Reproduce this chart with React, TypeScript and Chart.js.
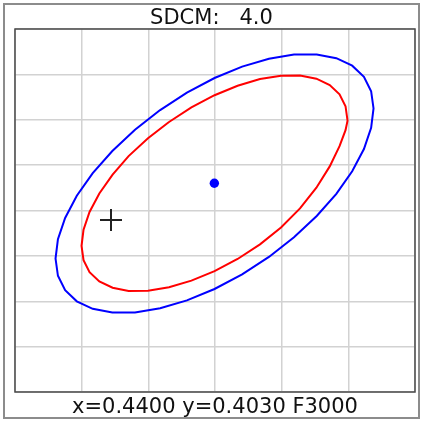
import React, { useEffect, useRef } from "react";
import { Chart, registerables } from "chart.js";

Chart.register(...registerables);

const titleText = "SDCM:   4.0";
const footerText = "x=0.4400 y=0.4030 F3000";

// grid divisions (no tick labels shown)
const xTicks = [0, 1, 2, 3, 4, 5, 6];
const yTicks = [0, 1, 2, 3, 4, 5, 6, 7, 8];

// outer (blue) ellipse, in grid units
const outerEllipse: [number, number][] = [
  [2.177, 6.213], [1.8, 5.781], [1.46, 5.311], [1.166, 4.822],
  [0.927, 4.324], [0.752, 3.835], [0.644, 3.368], [0.608, 2.94], [0.644, 2.561],
  [0.752, 2.244], [0.927, 1.999], [1.166, 1.834], [1.46, 1.75], [1.8, 1.754],
  [2.177, 1.845], [2.579, 2.019], [2.993, 2.27], [3.407, 2.594], [3.809, 2.977],
  [4.185, 3.409], [4.526, 3.879], [4.82, 4.368], [5.058, 4.866], [5.234, 5.355],
  [5.342, 5.823], [5.378, 6.25], [5.342, 6.629], [5.234, 6.947], [5.058, 7.191],
  [4.82, 7.357], [4.526, 7.44], [4.185, 7.436], [3.809, 7.346], [3.407, 7.172],
  [2.993, 6.92], [2.579, 6.596], [2.177, 6.213],
];

// inner (red) ellipse, in grid units
const innerEllipse: [number, number][] = [
  [2.31, 5.951], [1.995, 5.591], [1.704, 5.199], [1.464, 4.791],
  [1.265, 4.375], [1.118, 3.967], [1.028, 3.579], [0.998, 3.222], [1.028, 2.905],
  [1.118, 2.642], [1.265, 2.438], [1.464, 2.299], [1.704, 2.228], [1.995, 2.233],
  [2.31, 2.307], [2.646, 2.455], [2.993, 2.662], [3.339, 2.931], [3.675, 3.253],
  [3.99, 3.625], [4.275, 4.046], [4.521, 4.503], [4.721, 4.972], [4.868, 5.417],
  [4.958, 5.77], [4.988, 5.981], [4.958, 6.299], [4.868, 6.561], [4.721, 6.766],
  [4.521, 6.905], [4.275, 6.975], [3.99, 6.971], [3.675, 6.896], [3.339, 6.75],
  [2.993, 6.541], [2.646, 6.272], [2.31, 5.951],
];

const centerPoint: [number, number][] = [[2.99, 4.6]];
const targetPoint: [number, number][] = [[1.44, 3.79]];

const toXY = (pts: [number, number][]) => pts.map(([x, y]) => ({ x, y }));

const framePlugin = {
  id: "frame",
  afterDraw(chart: any) {
    const { ctx, chartArea: a } = chart;
    ctx.save();
    ctx.strokeStyle = "#4a4a4a";
    ctx.lineWidth = 1.5;
    ctx.strokeRect(a.left, a.top, a.right - a.left, a.bottom - a.top);
    ctx.strokeStyle = "#8c8c8c";
    ctx.lineWidth = 2;
    ctx.strokeRect(4, 4, chart.width - 8, chart.height - 11);
    ctx.restore();
  },
};

export default function App() {
  const ref = useRef<HTMLCanvasElement | null>(null);

  useEffect(() => {
    if (!ref.current) return;
    const font = "'DejaVu Sans', Verdana, sans-serif";
    const chart = new Chart(ref.current, {
      type: "scatter",
      data: {
        datasets: [
          {
            data: toXY(targetPoint),
            pointStyle: "cross",
            pointRadius: 11,
            borderColor: "#222222",
            borderWidth: 2,
            showLine: false,
          },
          {
            data: toXY(centerPoint),
            pointStyle: "circle",
            pointRadius: 4.7,
            backgroundColor: "#0000ff",
            borderColor: "#0000ff",
            borderWidth: 0,
            showLine: false,
          },
          {
            data: toXY(innerEllipse),
            showLine: true,
            borderColor: "#ff0000",
            borderWidth: 2,
            pointRadius: 0,
            tension: 0,
            fill: false,
          },
          {
            data: toXY(outerEllipse),
            showLine: true,
            borderColor: "#0000ff",
            borderWidth: 2,
            pointRadius: 0,
            tension: 0,
            fill: false,
          },
        ],
      } as any,
      options: {
        animation: false,
        responsive: false,
        devicePixelRatio: 1,
        events: [],
        layout: { autoPadding: false, padding: { left: 8, right: 8, top: 0, bottom: 0 } },
        plugins: {
          legend: { display: false },
          tooltip: { enabled: false },
          title: {
            display: true,
            text: titleText,
            color: "#111111",
            font: { family: font, size: 21, weight: "normal", lineHeight: 1 },
            padding: { top: 8, bottom: 0 },
          },
          subtitle: {
            display: true,
            text: footerText,
            position: "bottom",
            fullSize: false,
            color: "#111111",
            font: { family: font, size: 21, weight: "normal", lineHeight: 1 },
            padding: { top: 5, bottom: 7 },
          },
        },
        scales: {
          x: {
            type: "linear",
            min: xTicks[0],
            max: xTicks[xTicks.length - 1],
            ticks: { display: false, stepSize: 1 },
            grid: { color: "#d2d2d2", lineWidth: 1.5, drawTicks: false },
            border: { display: false },
          },
          y: {
            type: "linear",
            min: yTicks[0],
            max: yTicks[yTicks.length - 1],
            ticks: { display: false, stepSize: 1 },
            grid: { color: "#d2d2d2", lineWidth: 1.5, drawTicks: false },
            border: { display: false },
            afterFit: (scale: any) => {
              scale.width = 7;
            },
          },
        },
      } as any,
      plugins: [framePlugin],
    });
    return () => chart.destroy();
  }, []);

  return (
    <div style={{ position: "fixed", left: 0, top: 0, width: 423, height: 425, background: "#ffffff" }}>
      <canvas ref={ref} width={423} height={425} style={{ display: "block" }} />
    </div>
  );
}
